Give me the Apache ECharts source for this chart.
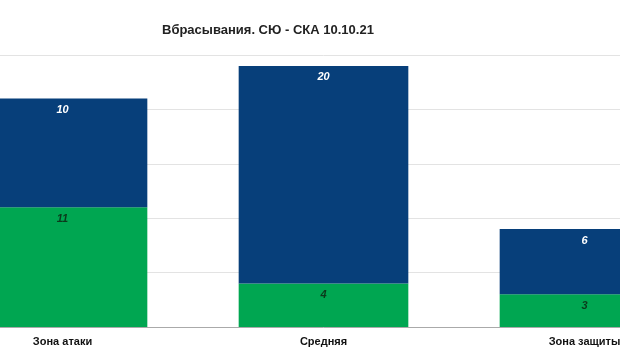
<!DOCTYPE html>
<html><head><meta charset="utf-8">
<script src="https://cdn.jsdelivr.net/npm/echarts@6/dist/echarts.min.js"></script>
<style>html,body{margin:0;padding:0;background:#fff;overflow:hidden;width:620px;height:364px;position:relative}#c{position:absolute;left:-68px;top:0;width:783px;height:364px}</style>
</head><body><div id="c"></div>
<script>
const title = 'Вбрасывания. СЮ - СКА 10.10.21';
const categories = ['Зона атаки', 'Средняя', 'Зона защиты'];
const greenValues = [11, 4, 3];
const blueValues = [10, 20, 6];
const chart = echarts.init(document.getElementById('c'));
chart.setOption({
  animation: false,
  backgroundColor: '#fff',
  title: { text: title, left: 225, top: 19, textStyle: { fontFamily: 'Liberation Sans, Arial', fontSize: 13, fontWeight: 'bold', color: '#222' } },
  grid: { left: 0, right: 0, top: 55, bottom: 37, containLabel: false },
  xAxis: { type: 'category', data: categories,
    axisLine: { lineStyle: { color: '#aaa' } }, axisTick: { show: false },
    axisLabel: { margin: 9, fontFamily: 'Liberation Sans, Arial', fontSize: 11, fontWeight: 'bold', color: '#111' } },
  yAxis: { type: 'value', min: 0, max: 25, interval: 5, axisLabel: { show: false }, axisLine: { show: false }, axisTick: { show: false },
    splitLine: { lineStyle: { color: '#e3e3e3' } } },
  series: [
    { type: 'bar', stack: 's', data: greenValues, barWidth: '65%', itemStyle: { color: '#00a651' },
      label: { show: true, position: 'insideTop', distance: 6, fontFamily: 'Liberation Sans, Arial', fontSize: 11, fontWeight: 'bold', fontStyle: 'italic', color: '#0b3a1c' } },
    { type: 'bar', stack: 's', data: blueValues, barWidth: '65%', itemStyle: { color: '#073f7a' },
      label: { show: true, position: 'insideTop', distance: 6, fontFamily: 'Liberation Sans, Arial', fontSize: 11, fontWeight: 'bold', fontStyle: 'italic', color: '#fff' } }
  ]
});
</script></body></html>
